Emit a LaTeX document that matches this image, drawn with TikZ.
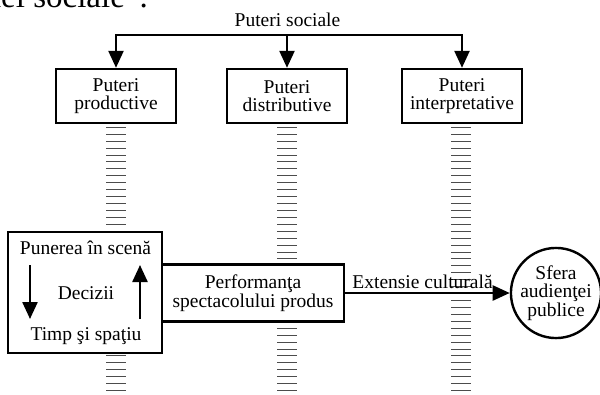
\documentclass[tikz,border=0pt]{standalone}
\usepackage{fontspec}
\setmainfont{Liberation Serif}
\usetikzlibrary{arrows.meta}
\tikzset{%
  powbox/.style={draw,line width=2.4pt,fill=white,align=center,minimum width=120pt,minimum height=54pt,inner sep=0},
  pbox/.style={draw,line width=2.4pt,fill=white,align=center,inner sep=0},
  pcirc/.style={draw,shape=circle,line width=2.4pt,fill=white,align=center,minimum size=89pt,inner sep=0},
  ptext/.style={anchor=base,inner sep=0},
  parrow/.style={line width=2.4pt,-{Triangle[length=17pt,width=15pt]}},
  rung/.style={draw=black!70,line width=1pt}
}
\begin{document}
\begin{tikzpicture}[x=1pt,y=-1pt,font=\fontsize{19.5pt}{18.5pt}\selectfont]
      \clip (0,0) rectangle (600,394);
      % ladders behind the boxes
      \foreach \col in {116,287,461}
        \foreach \k in {0,...,38}
          \draw[rung] ({\col-10},{127.3+\k*6.93}) -- ++(20,0);
      \path
        (148,7) node (cut)[anchor=base east,inner sep=0,font=\fontsize{33pt}{36pt}\selectfont]{mei sociale”.}
        (287.5,26) node (soc)[ptext]{Puteri sociale}
        (116,96) node (pow_1)[powbox]{Puteri\\productive}
        (287,96) node (pow_2)[powbox]{Puteri\\distributive}
        (462,96) node (pow_3)[powbox]{Puteri\\interpretative}
        (85,292.5) node (scena)[pbox,minimum width=154pt,minimum height=121pt]{}
        (253,293) node (perf)[pbox,minimum width=182pt,minimum height=57pt]{Performanţa\\spectacolului produs}
        (556,293) node (sfera)[pcirc]{Sfera\\audienţei\\publice}
        (85.5,254) node (pun)[ptext]{Punerea în scenă}
        (86,299) node (dec)[ptext]{Decizii}
        (86,340) node (tsp)[ptext]{Timp şi spaţiu};
      \coordinate (t_2) at (287,35);
      \coordinate (dn_a) at (30,265);
      \coordinate (dn_b) at (30,319);
      \coordinate (up_a) at (140,319);
      \coordinate (up_b) at (140,265);
      \draw[parrow] (t_2) -| (pow_1);
      \draw[parrow] (t_2) -- (pow_2);
      \draw[parrow] (t_2) -| (pow_3);
      \draw[parrow] (dn_a) -- (dn_b);
      \draw[parrow] (up_a) -- (up_b);
      \draw[parrow] (perf.east) -- node[above,pos=0.47]{Extensie culturală} (sfera.west);
    \end{tikzpicture}
\end{document}
